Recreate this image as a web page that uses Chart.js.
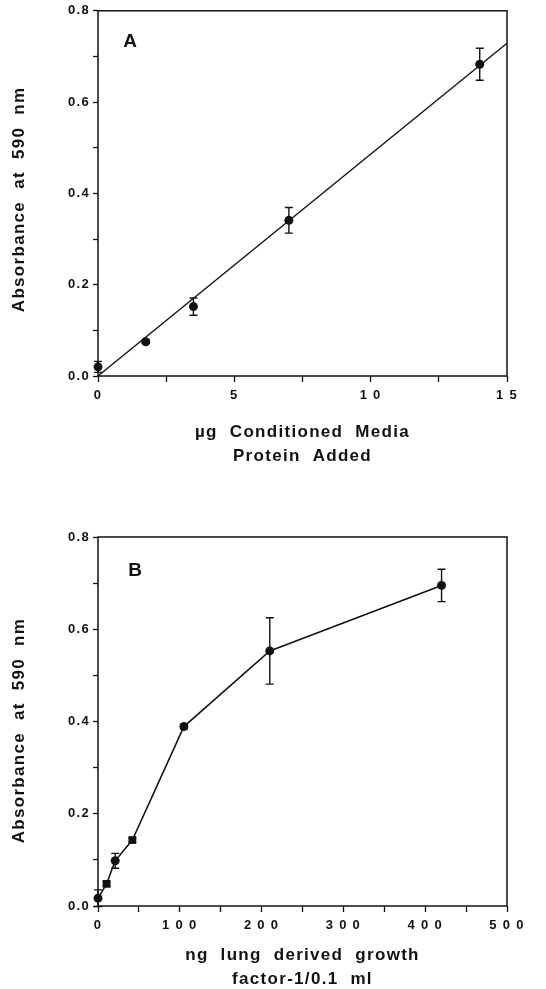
<!DOCTYPE html>
<html><head><meta charset="utf-8">
<script src="https://cdn.jsdelivr.net/npm/chart.js@4.4.0/dist/chart.umd.min.js"></script>
<style>
html,body{margin:0;padding:0;background:#fff;}
#wrap{position:relative;width:546px;height:989px;overflow:hidden;background:#fff;}
canvas{position:absolute;left:0;}
</style></head><body>
<div id="wrap">
<canvas id="cA" width="546" height="470" style="top:0px"></canvas>
<canvas id="cB" width="546" height="519" style="top:470px"></canvas>
</div>
<script>
// ---------- Panel A data ----------
const doseA = [0, 1.75, 3.5, 7, 14];
const absA  = [0.020, 0.075, 0.152, 0.341, 0.683];
const errA  = [0.012, 0.004, 0.019, 0.028, 0.035];
const fitXA = [0, 15];
const fitYA = [0.0, 0.729];
const xTickValsA = [0, 5, 10, 15];
const xTickLabelsA = ['0', '5', '1 0', '1 5'];

// ---------- Panel B data ----------
const doseB = [0, 10.5, 21, 42, 105, 210, 420];
const absB  = [0.017, 0.048, 0.098, 0.143, 0.389, 0.553, 0.695];
const errB  = [0.018, 0.004, 0.016, 0.004, 0.005, 0.072, 0.035];
const markerB = ['circle', 'rect', 'circle', 'rect', 'circle', 'circle', 'circle'];
const markerSizeB = [4.5, 5.5, 4.5, 5.5, 4.5, 4.5, 4.5];
const xTickValsB = [0, 100, 200, 300, 400, 500];
const xTickLabelsB = ['0', '1 0 0', '2 0 0', '3 0 0', '4 0 0', '5 0 0'];

// ---------- shared ----------
const yTickVals = [0, 0.2, 0.4, 0.6, 0.8];
const yTickLabels = ['0.0', '0.2', '0.4', '0.6', '0.8'];
const yTitleA = 'Absorbance  at  590  nm\u00a0\u00a0';
const yTitleB = 'Absorbance  at  590  nm\u00a0\u00a0\u00a0';
const xTitleA = ['\u00b5g  Conditioned  Media', 'Protein  Added'];
const xTitleB = ['ng  lung  derived  growth', 'factor-1/0.1  ml'];

const FONT = "'Liberation Sans', Arial, Helvetica, sans-serif";
const INK = '#111';

function labelFor(vals, labels, v) {
  for (let i = 0; i < vals.length; i++) if (Math.abs(vals[i] - v) < 1e-6) return labels[i];
  return '';
}

const spacingPlugin = {
  id: 'spacing',
  beforeUpdate(c) { c.ctx.letterSpacing = '1.3px'; },
  beforeLayout(c) { c.ctx.letterSpacing = '1.3px'; },
  beforeDraw(c) { c.ctx.letterSpacing = '1.3px'; }
};

const framePlugin = {
  id: 'frame',
  afterDatasetsDraw(chart, args, opts) {
    const { ctx, chartArea: a } = chart;
    ctx.save();
    ctx.strokeStyle = INK; ctx.lineWidth = 1.5;
    ctx.strokeRect(a.left, a.top, a.right - a.left, a.bottom - a.top);
    ctx.letterSpacing = '0px';
    ctx.font = 'bold 19px ' + FONT;
    ctx.fillStyle = INK; ctx.textAlign = 'center'; ctx.textBaseline = 'middle';
    ctx.fillText(opts.letter, a.left + opts.dx, a.top + opts.dy);
    ctx.restore();
  }
};

const errPlugin = {
  id: 'errbars',
  afterDatasetsDraw(chart) {
    const ctx = chart.ctx, xs = chart.scales.x, ys = chart.scales.y;
    ctx.save();
    ctx.strokeStyle = INK; ctx.lineWidth = 1.4;
    chart.data.datasets.forEach(ds => {
      if (!ds.errors) return;
      ds.data.forEach((p, i) => {
        const e = ds.errors[i];
        if (!e) return;
        const x = xs.getPixelForValue(p.x);
        const y1 = ys.getPixelForValue(p.y + e), y2 = ys.getPixelForValue(p.y - e);
        ctx.beginPath();
        ctx.moveTo(x, y1); ctx.lineTo(x, y2);
        ctx.moveTo(x - 4, y1); ctx.lineTo(x + 4, y1);
        ctx.moveTo(x - 4, y2); ctx.lineTo(x + 4, y2);
        ctx.stroke();
      });
    });
    ctx.restore();
  }
};

function makeScales(xmin, xmax, xstep, xVals, xLabels, xTitle, xHeight, xTitlePad, yTitle) {
  return {
    x: {
      type: 'linear', min: xmin, max: xmax,
      border: { display: false },
      grid: { drawOnChartArea: false, drawTicks: true, tickLength: 6, tickColor: INK, tickWidth: 1.3 },
      ticks: {
        stepSize: xstep, autoSkip: false, maxRotation: 0, padding: 6, color: INK,
        font: { family: FONT, size: 13, weight: 'bold' },
        callback: v => labelFor(xVals, xLabels, v)
      },
      title: {
        display: true, text: xTitle, color: INK,
        font: { family: FONT, size: 17, weight: 'bold', lineHeight: 1.38 },
        padding: { top: 0, bottom: xTitlePad }
      },
      afterFit: s => { s.height = xHeight; }
    },
    y: {
      type: 'linear', min: 0, max: 0.8,
      border: { display: false },
      grid: { drawOnChartArea: false, drawTicks: true, tickLength: 5, tickColor: INK, tickWidth: 1.3 },
      ticks: {
        stepSize: 0.1, autoSkip: false, padding: 3, color: INK,
        font: { family: FONT, size: 13, weight: 'bold' },
        callback: v => labelFor(yTickVals, yTickLabels, v)
      },
      title: {
        display: true, text: yTitle, color: INK,
        font: { family: FONT, size: 17, weight: 'bold', lineHeight: 1.2 },
        padding: { top: 9, bottom: 0 }
      },
      afterFit: s => { s.width = 98; }
    }
  };
}

const common = {
  responsive: false, animation: false, devicePixelRatio: 1,
  plugins: { legend: { display: false }, tooltip: { enabled: false } }
};

new Chart(document.getElementById('cA'), {
  type: 'scatter',
  data: {
    datasets: [
      {
        data: fitXA.map((x, i) => ({ x: x, y: fitYA[i] })),
        showLine: true, borderColor: INK, borderWidth: 1.4, pointRadius: 0, fill: false, clip: false
      },
      {
        data: doseA.map((x, i) => ({ x: x, y: absA[i] })),
        errors: errA, clip: false,
        showLine: false, pointRadius: 4.5, pointStyle: 'circle',
        backgroundColor: INK, borderColor: INK, borderWidth: 0
      }
    ]
  },
  options: Object.assign({}, common, {
    layout: { padding: { left: 0, top: 9, right: 39, bottom: 0 } },
    scales: makeScales(0, 15, 2.5, xTickValsA, xTickLabelsA, xTitleA, 94, 2, yTitleA),
    plugins: Object.assign({}, common.plugins, { frame: { letter: 'A', dx: 32, dy: 31 } })
  }),
  plugins: [spacingPlugin, errPlugin, framePlugin]
});

new Chart(document.getElementById('cB'), {
  type: 'scatter',
  data: {
    datasets: [
      {
        data: doseB.map((x, i) => ({ x: x, y: absB[i] })),
        errors: errB, clip: false,
        showLine: true, borderColor: INK, borderWidth: 1.5, fill: false, tension: 0,
        pointRadius: markerSizeB, pointStyle: markerB,
        backgroundColor: INK, pointBackgroundColor: INK, pointBorderColor: INK, pointBorderWidth: 0
      }
    ]
  },
  options: Object.assign({}, common, {
    layout: { padding: { left: 0, top: 67, right: 39, bottom: 0 } },
    scales: makeScales(0, 500, 50, xTickValsB, xTickLabelsB, xTitleB, 83, -2, yTitleB),
    plugins: Object.assign({}, common.plugins, { frame: { letter: 'B', dx: 37, dy: 34 } })
  }),
  plugins: [spacingPlugin, errPlugin, framePlugin]
});
</script>
</body></html>
